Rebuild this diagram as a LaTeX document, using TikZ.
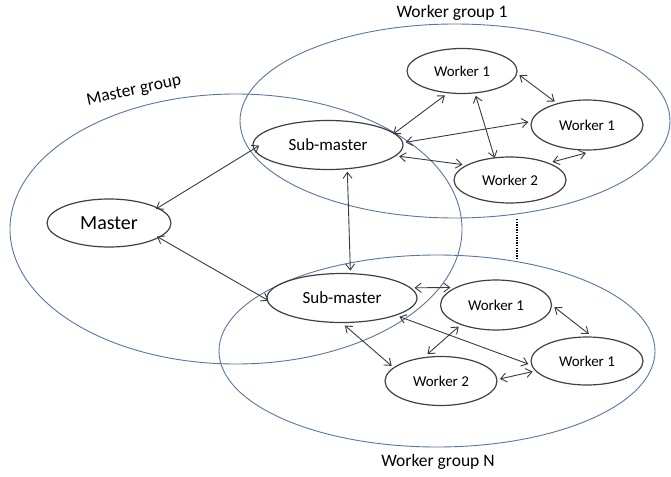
\documentclass[tikz,border=0pt]{standalone}
\usepackage{fontspec}
\setmainfont{Carlito}
\usepackage{tikz}
\usetikzlibrary{shapes.geometric,arrows.meta}

\definecolor{grpblue}{RGB}{88,118,160}
\definecolor{nodegray}{RGB}{64,64,64}
\definecolor{arrgray}{RGB}{58,58,58}

\begin{document}
\begin{tikzpicture}[
  x=1pt,y=1pt,
  groupell/.style={draw=grpblue,line width=0.9pt,ellipse,inner sep=0pt},
  grouplabel/.style={font=\fontsize{17.5}{20}\selectfont,inner sep=1pt},
  workerbox/.style={draw=nodegray,line width=1.2pt,ellipse,inner sep=0pt,outer sep=3pt,
    minimum width=112pt,minimum height=48pt,font=\fontsize{15}{18}\selectfont},
  subbox/.style={workerbox,minimum width=150pt,minimum height=49pt,font=\fontsize{17}{20}\selectfont},
  masterbox/.style={workerbox,minimum width=124pt,minimum height=48pt,font=\fontsize{20}{24}\selectfont},
  link/.style={{Straight Barb[length=6pt,width=9pt]}-{Straight Barb[length=6pt,width=9pt]},
    draw=arrgray,line width=0.9pt},
  farlink/.style={link,shorten <=-5pt,shorten >=-5pt},
  dotline/.style={line width=1.3pt,dash pattern=on 1.3pt off 1.3pt}
]
\useasboundingbox (0,0) rectangle (671,-476);

% groups
\node[groupell,minimum width=452pt,minimum height=270pt] (mgroup) at (236,-229) {};
\node[groupell,minimum width=430pt,minimum height=194pt] (wgroup1) at (455,-121) {};
\node[groupell,minimum width=436pt,minimum height=192pt] (wgroupN) at (437,-351) {};
\node[grouplabel,rotate=12] (mlabel) at (134,-91) {Master group};
\node[grouplabel] (w1label) at (452,-13) {Worker group 1};
\node[grouplabel] (wNlabel) at (438,-462) {Worker group N};

% nodes
\node[masterbox] (master) at (109,-223) {Master};
\node[subbox] (sm1) at (328,-145) {Sub-master};
\node[subbox] (smN) at (342,-298) {Sub-master};
\node[workerbox,minimum width=110pt,minimum height=45pt] (w1a) at (462,-71) {Worker 1};
\node[workerbox,minimum height=50pt] (w1b) at (587,-125) {Worker 1};
\node[workerbox,minimum height=46pt] (w2) at (510,-180) {Worker 2};
\node[workerbox,minimum width=111pt,minimum height=50pt] (wN1a) at (496,-305) {Worker 1};
\node[workerbox] (wN1b) at (587,-361) {Worker 1};
\node[workerbox,minimum height=49pt] (wN2) at (441,-381) {Worker 2};

% links
\draw[farlink,shorten >=-9pt] (master.18) -- (sm1.184);
\draw[farlink] (master.-17) -- (smN.180);
\draw[link] (sm1.-54) -- (smN.73);
\draw[link,shorten <=-4pt] (sm1.11) -- (w1a.-125);
\draw[link] (sm1.2) -- (w1b.177);
\draw[link] (sm1.-9) -- (w2.162);
\draw[link,shorten >=-3pt] (w1a.-61) -- (w2.123);
\draw[link] (w1a.-4) -- (w1b.144);
\draw[link] (w2.23) -- (w1b.-92);
\draw[link] (smN.8) -- (wN1a.159);
\draw[link] (smN.-18) -- (wN1b.183);
\draw[link] (smN.-84) -- (wN2.163);
\draw[link] (wN1a.-150) -- (wN2.117);
\draw[link] (wN1a.-2) -- (wN1b.86);
\draw[link] (wN2.2) -- (wN1b.191);

% more groups
\coordinate (dtop) at (517,-219);
\coordinate (dbot) at (517,-260);
\draw[dotline] (dtop) -- (dbot);
\end{tikzpicture}
\end{document}
